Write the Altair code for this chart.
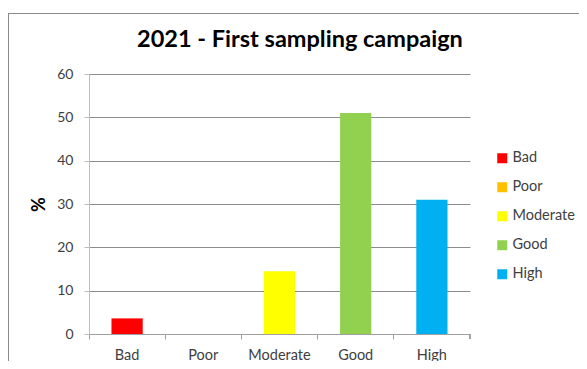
import altair as alt
import pandas as pd

title_text = "2021 - First sampling campaign"
categories = ["Bad", "Poor", "Moderate", "Good", "High"]
values = [3.6, 0.0, 14.5, 51.0, 31.0]
colors = ["#FF0000", "#FFC000", "#FFFF00", "#92D050", "#00B0F0"]
y_ticks = [0, 10, 20, 30, 40, 50, 60]

df = pd.DataFrame({"cat": categories, "val": values})

W, H = 381, 260
FONT = "Lato"

bars = alt.Chart(df).mark_bar(width=alt.RelativeBandSize(0.41)).encode(
    x=alt.X("cat:N", sort=categories,
            scale=alt.Scale(paddingInner=0, paddingOuter=0),
            axis=alt.Axis(title=None, labelAngle=0, bandPosition=0,
                          tickSize=5, tickColor="#a0a0a0", domainColor="#a0a0a0",
                          labelFontSize=14.5, labelColor="#404040", labelFont=FONT,
                          labelPadding=9, grid=False)),
    y=alt.Y("val:Q", scale=alt.Scale(domain=[0, 60], nice=False),
            axis=alt.Axis(values=y_ticks, title="%", titleFontSize=18,
                          titleFont=FONT, titleFontWeight="bold", titleColor="#000",
                          titleX=-41, titleY=130, titleAngle=-90,
                          labelFontSize=14, labelColor="#404040", labelFont=FONT,
                          labelPadding=11, tickSize=5, tickColor="#bdbdbd",
                          domainColor="#bdbdbd", gridColor="#8c8c8c")),
    color=alt.Color("cat:N", sort=categories,
                    scale=alt.Scale(domain=categories, range=colors),
                    legend=alt.Legend(title=None, orient="none", legendX=406,
                                      legendY=77, symbolType="square",
                                      symbolSize=100, symbolStrokeWidth=0,
                                      labelFontSize=14.5, labelFont=FONT,
                                      labelColor="#404040", rowPadding=14,
                                      labelOffset=3, padding=0)),
)

right_tick = alt.Chart(df).mark_rule(color="#a0a0a0").encode(
    x=alt.value(W), y=alt.value(H), y2=alt.value(H + 5))

border_left = alt.Chart(df).mark_rule(color="#8a8a8a").encode(
    x=alt.value(-80.5), y=alt.value(-61), y2=alt.value(300))
border_top = alt.Chart(df).mark_rule(color="#8a8a8a").encode(
    x=alt.value(-81), x2=alt.value(520), y=alt.value(-60.5))

title_mark = alt.Chart(pd.DataFrame({"t": [title_text]})).mark_text(
    font=FONT, fontSize=23.5, fontWeight="bold", color="#000",
    align="center", baseline="middle").encode(
    x=alt.value(211), y=alt.value(-34), text="t:N")

chart = alt.layer(border_left, border_top, title_mark, bars, right_tick).properties(
    width=W, height=H,
    autosize=alt.AutoSizeParams(type="none"),
    padding={"left": 81, "top": 66, "right": 109, "bottom": 27},
).configure_view(stroke=None).configure_axis(gridWidth=1)

chart.save("out.html", embed_options={"renderer": "svg", "actions": False})
